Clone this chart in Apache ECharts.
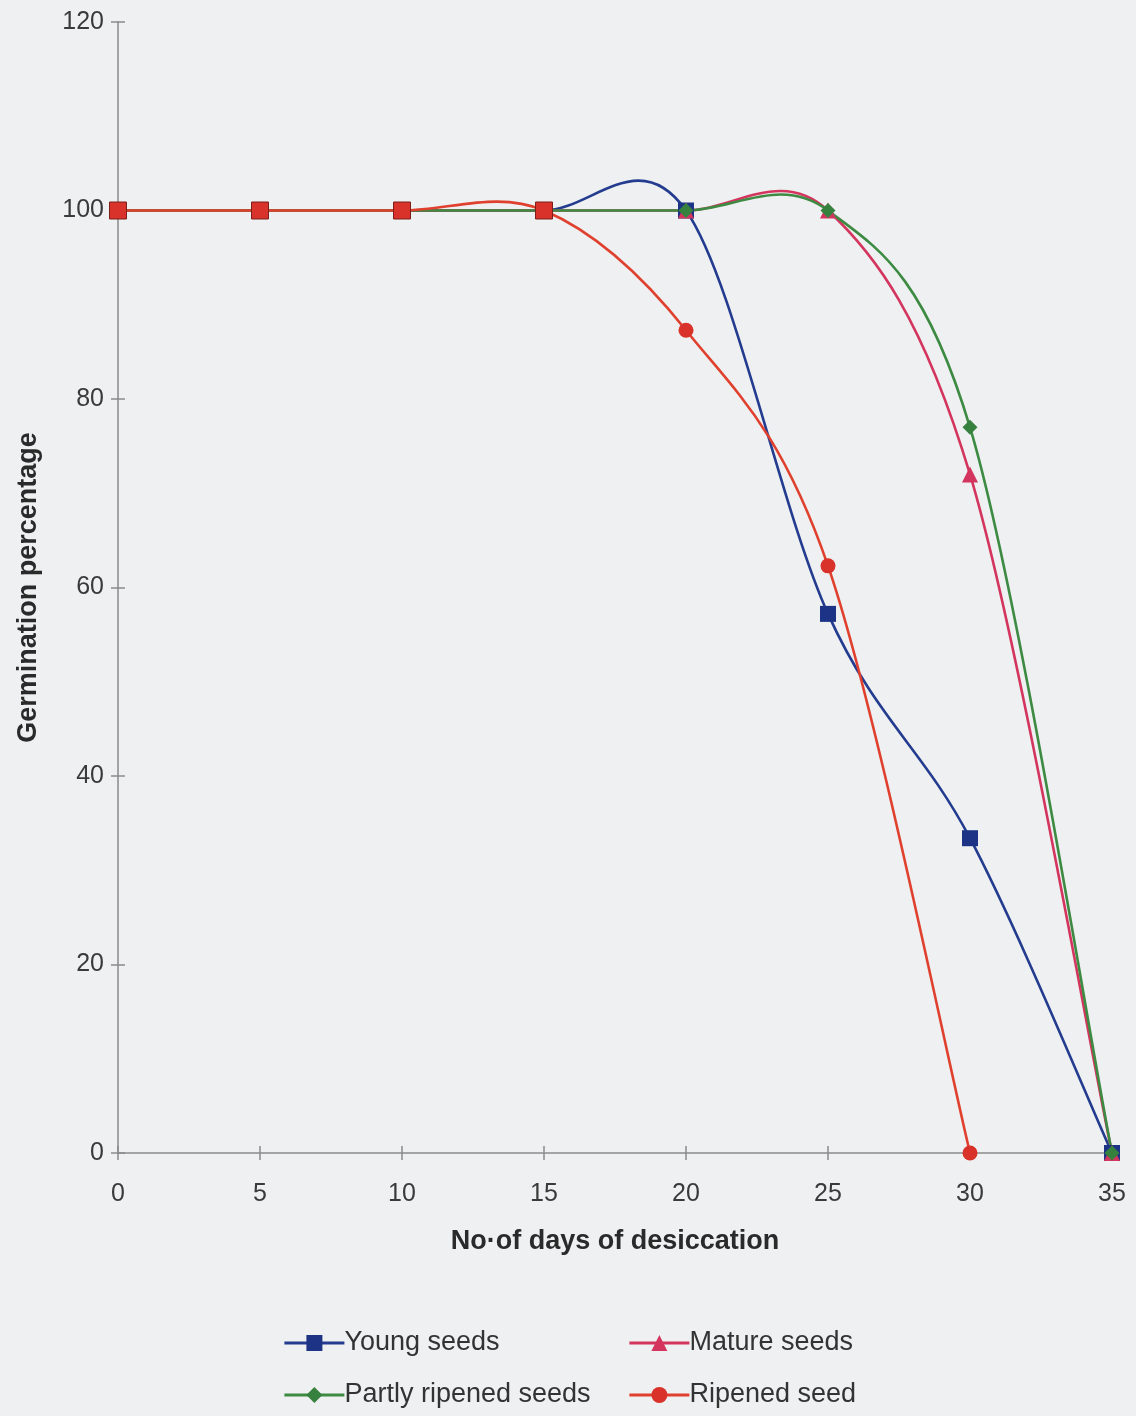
<!DOCTYPE html>
<html>
<head>
<meta charset="utf-8">
<title>Germination after desiccation</title>
<script src="https://cdn.jsdelivr.net/npm/echarts@6/dist/echarts.min.js"></script>
<style>
  html, body { margin: 0; padding: 0; background: #eef0f1; }
  #chart { width: 1136px; height: 1416px; }
</style>
</head>
<body>
<div id="chart"></div>
<script>
// Days of desiccation (x values)
const days = [0, 5, 10, 15, 20, 25, 30, 35];

// Germination percentage per seed stage
const youngSeeds = [100, 100, 100, 100, 100, 57.2, 33.4, 0];
const matureSeeds = [100, 100, 100, 100, 100, 100, 72, 0];
const partlyRipenedSeeds = [100, 100, 100, 100, 100, 100, 77, 0];
const ripenedSeed = [100, 100, 100, 100, 87.3, 62.3, 0];

const seriesNames = ['Young seeds', 'Mature seeds', 'Partly ripened seeds', 'Ripened seed'];
const lineColors = ['#243c8f', '#d3355e', '#3d8a42', '#e0402e'];
const markColors = ['#1d3486', '#d3355e', '#37813e', '#d9322a'];

const pairs = (xs, ys) => ys.map((y, i) => [xs[i], y]);

const font = '"Liberation Sans", Arial, sans-serif';

// Cardinal (Catmull-Rom style) smoothed path through the points, in pixel space
function smoothCurve(values, color) {
  return function (params, api) {
    if (params.dataIndex !== 0) return null;
    const pts = values.map((v, i) => api.coord([days[i], v]));
    const n = pts.length;
    const at = i => pts[Math.max(0, Math.min(n - 1, i))];
    let d = 'M' + pts[0][0] + ',' + pts[0][1];
    for (let i = 0; i < n - 1; i++) {
      const p0 = at(i - 1), p1 = at(i), p2 = at(i + 1), p3 = at(i + 2);
      const c1x = p1[0] + (p2[0] - p0[0]) / 6, c1y = p1[1] + (p2[1] - p0[1]) / 6;
      const c2x = p2[0] - (p3[0] - p1[0]) / 6, c2y = p2[1] - (p3[1] - p1[1]) / 6;
      d += ' C' + c1x + ',' + c1y + ' ' + c2x + ',' + c2y + ' ' + p2[0] + ',' + p2[1];
    }
    return {
      type: 'path',
      shape: { pathData: d },
      style: { fill: null, stroke: color, lineWidth: 2.6, lineJoin: 'round' }
    };
  };
}

const curveSeries = [youngSeeds, matureSeeds, partlyRipenedSeeds, ripenedSeed].map((vals, k) => ({
  id: 'curve' + k,
  type: 'custom',
  name: seriesNames[k] + ' curve',
  data: pairs(days, vals),
  encode: { x: 0, y: 1 },
  renderItem: smoothCurve(vals, lineColors[k]),
  silent: true,
  z: 2 + k * 0.1
}));

// The first four ripened-seed points are drawn with square markers
const ripenedData = pairs(days, ripenedSeed).map((p, i) =>
  i < 4 ? { value: p, symbol: 'rect', symbolSize: 17, itemStyle: { borderColor: '#7a1f1a', borderWidth: 1 } } : { value: p }
);

const markerSeries = (k, data, symbol, size) => ({
  name: seriesNames[k], type: 'line',
  data: data,
  symbol: symbol, symbolSize: size,
  showAllSymbol: true,
  lineStyle: { color: lineColors[k], width: 2.6, opacity: 0 },
  itemStyle: { color: markColors[k] },
  z: 5 + k * 0.1
});

const axisGray = '#8a8a8a';
const legendCommon = {
  orient: 'vertical',
  top: 1329,
  height: 86,
  padding: 0,
  itemWidth: 60, itemHeight: 20, itemGap: 24,
  lineStyle: { width: 2.8, opacity: 1 },
  textStyle: { fontFamily: font, fontSize: 27, lineHeight: 28, color: '#333', padding: [0, 0, 0, -5] }
};

const chart = echarts.init(document.getElementById('chart'));
chart.setOption({
  backgroundColor: '#eef0f1',
  animation: false,
  grid: { left: 118, right: 24, top: 22, bottom: 263, containLabel: false },
  xAxis: [
    {
      type: 'value',
      min: 0, max: 35, interval: 5,
      name: 'No·of days of desiccation',
      nameLocation: 'middle',
      nameGap: 75,
      nameTextStyle: { fontFamily: font, fontSize: 27, fontWeight: 'bold', color: '#2a2a2a', verticalAlign: 'top' },
      axisLine: { show: true, lineStyle: { color: axisGray, width: 1.5 } },
      axisTick: { show: true, length: 7, lineStyle: { color: axisGray, width: 1.5 } },
      axisLabel: { fontFamily: font, fontSize: 25, color: '#3a3a3a', margin: 29 },
      splitLine: { show: false }
    },
    {
      // inner half of the crossing tick marks
      type: 'value', position: 'bottom', offset: 0,
      min: 0, max: 35, interval: 5,
      axisLine: { show: false },
      axisTick: { show: true, inside: true, length: 7, lineStyle: { color: axisGray, width: 1.5 } },
      axisLabel: { show: false },
      splitLine: { show: false }
    }
  ],
  yAxis: [
    {
      type: 'value',
      min: 0, max: 120, interval: 20,
      name: 'Germination percentage',
      nameLocation: 'middle',
      nameGap: 76,
      nameRotate: 90,
      nameTextStyle: { fontFamily: font, fontSize: 27, fontWeight: 'bold', color: '#2a2a2a' },
      axisLine: { show: true, lineStyle: { color: axisGray, width: 1.5 } },
      axisTick: { show: true, length: 7, lineStyle: { color: axisGray, width: 1.5 } },
      axisLabel: { fontFamily: font, fontSize: 25, color: '#3a3a3a', margin: 14 },
      splitLine: { show: false }
    },
    {
      type: 'value', position: 'left', offset: 0,
      min: 0, max: 120, interval: 20,
      axisLine: { show: false },
      axisTick: { show: true, inside: true, length: 7, lineStyle: { color: axisGray, width: 1.5 } },
      axisLabel: { show: false },
      splitLine: { show: false }
    }
  ],
  legend: [
    Object.assign({ data: [seriesNames[0], seriesNames[2]], left: 283 }, legendCommon),
    Object.assign({ data: [seriesNames[1], seriesNames[3]], left: 628 }, legendCommon)
  ],
  series: [
    markerSeries(0, pairs(days, youngSeeds), 'rect', 16),
    markerSeries(1, pairs(days, matureSeeds), 'triangle', 16),
    markerSeries(2, pairs(days, partlyRipenedSeeds), 'diamond', 15),
    markerSeries(3, ripenedData, 'circle', 15)
  ].concat(curveSeries)
});
</script>
</body>
</html>
